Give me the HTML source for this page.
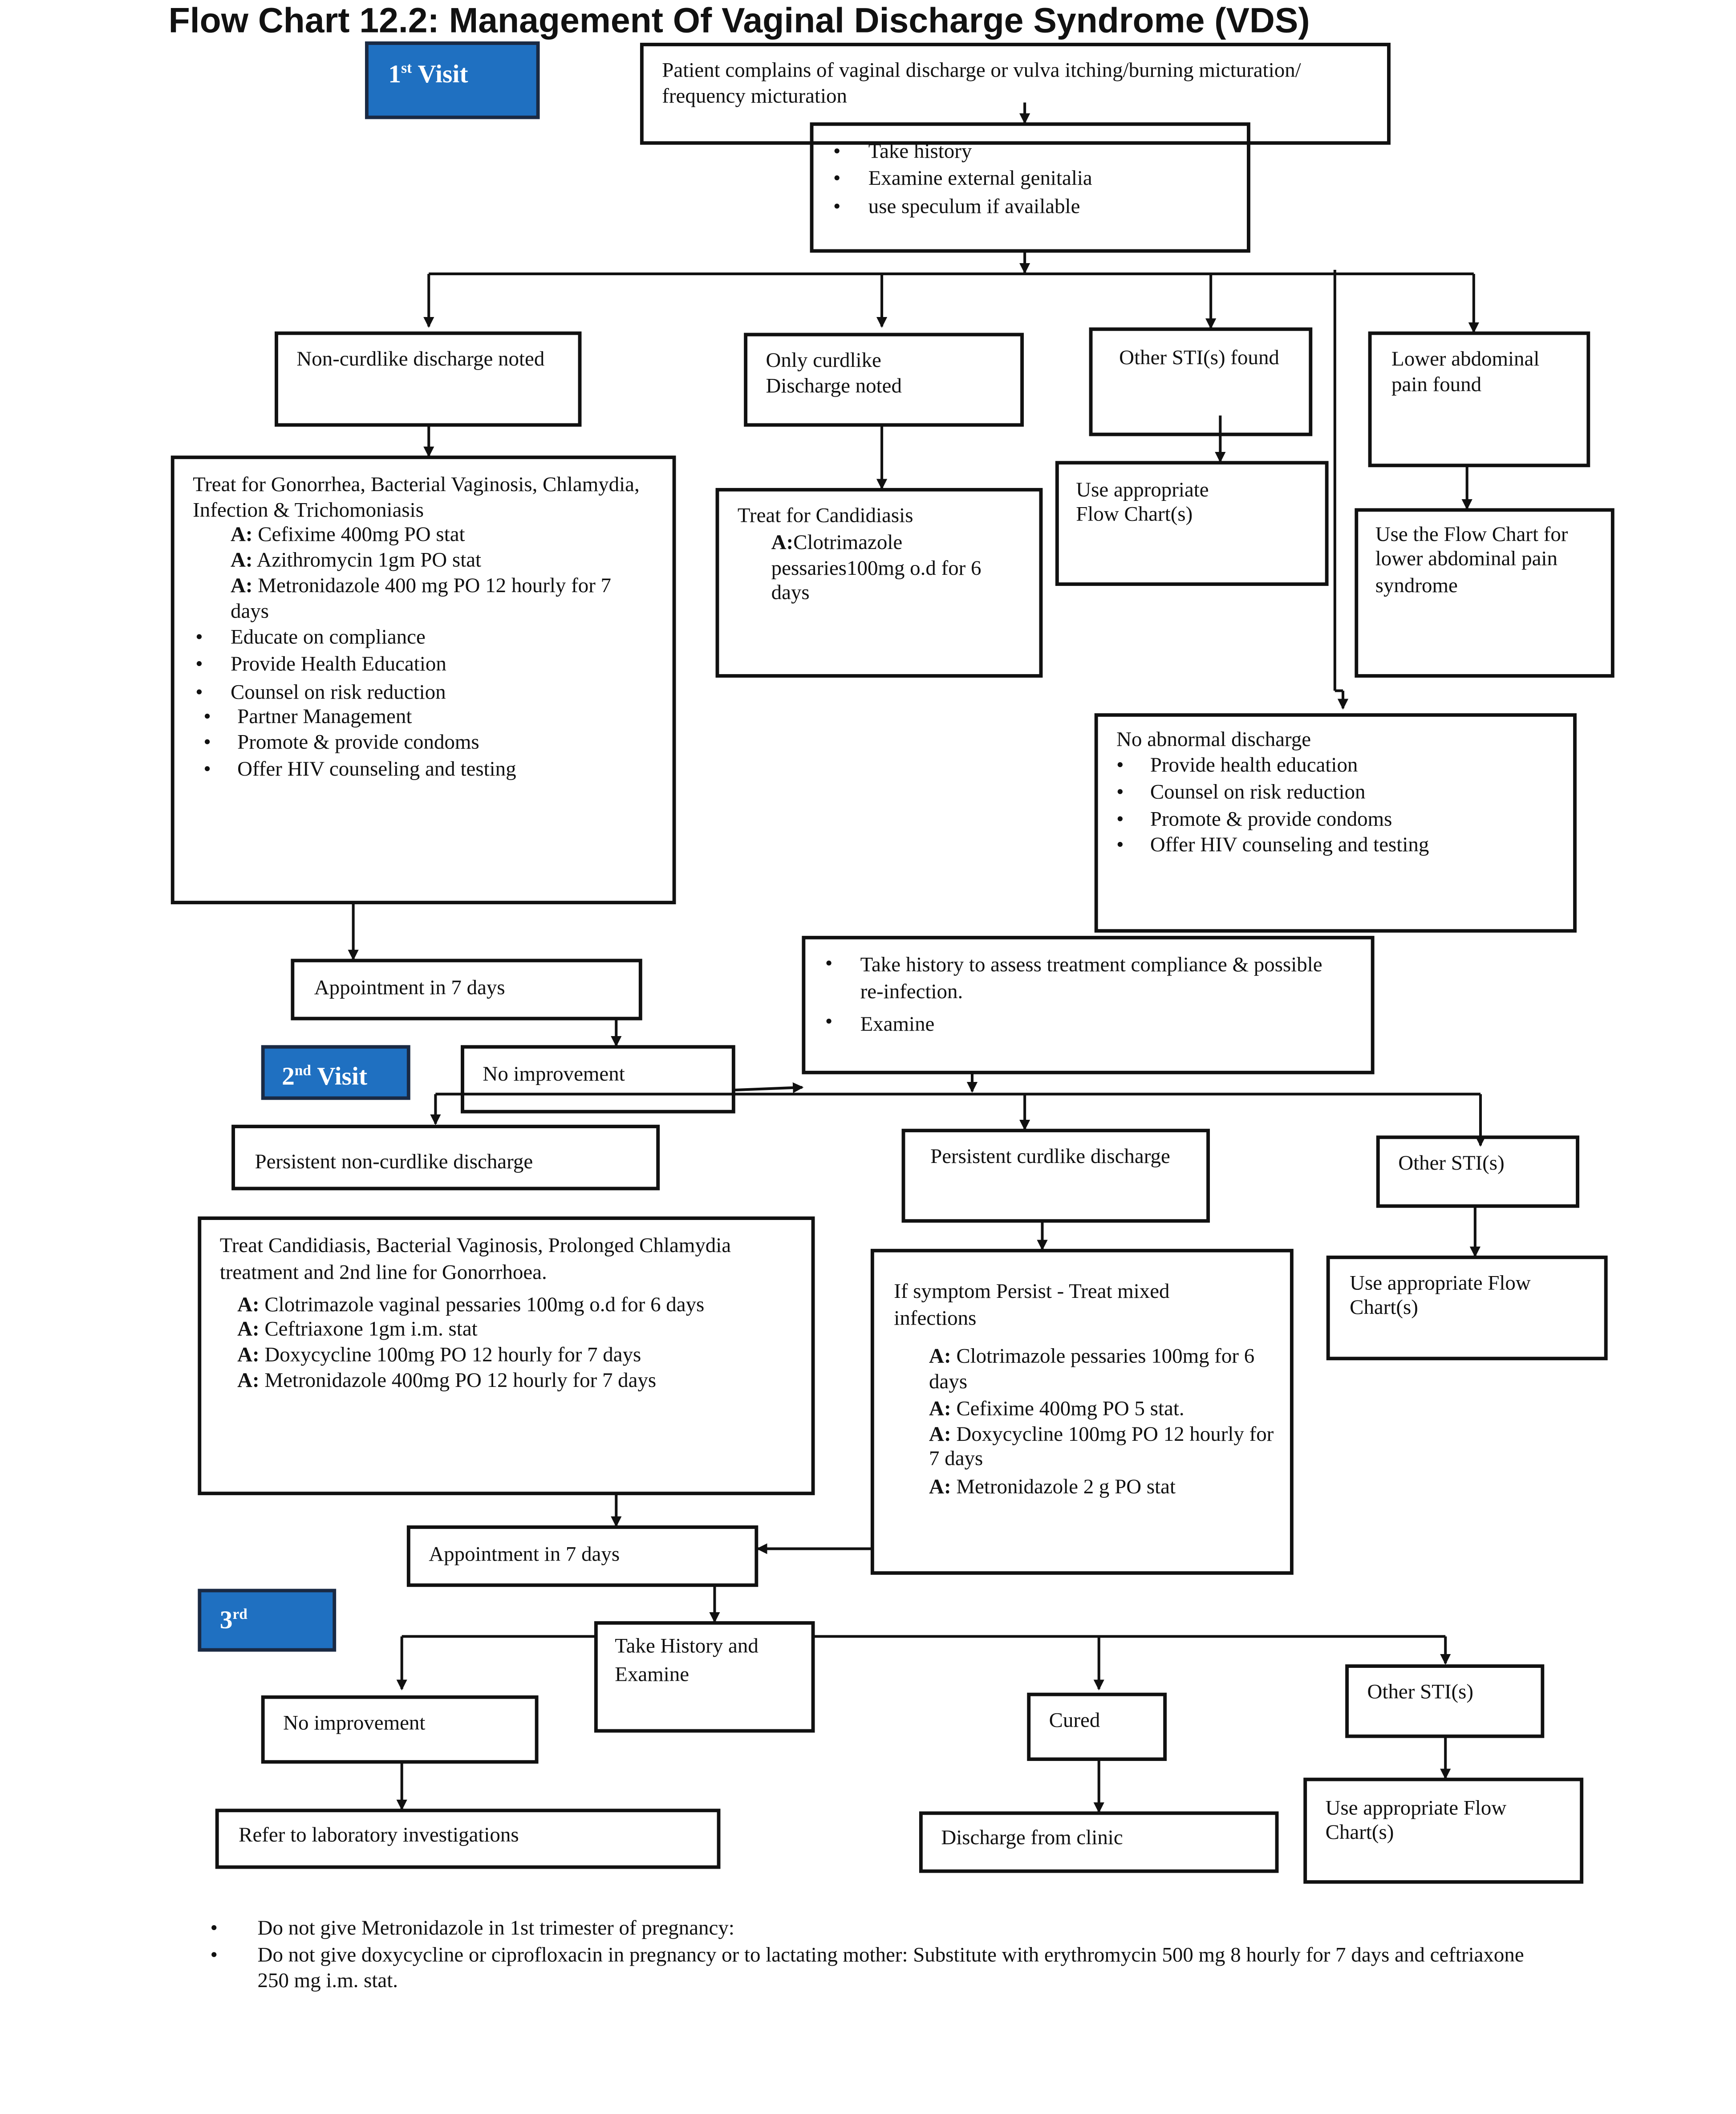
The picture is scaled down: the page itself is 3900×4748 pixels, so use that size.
<!DOCTYPE html>
<html><head><meta charset="utf-8"><style>
html,body{margin:0;padding:0;background:#fff;}
svg{display:block;}
text{font-family:"Liberation Serif",serif;font-size:15.5px;fill:#111;}
.t{font-family:"Liberation Sans",sans-serif;font-weight:bold;font-size:26px;}
.b{fill:none;stroke:#111;stroke-width:2.6;}
.l{stroke:#111;stroke-width:2;fill:none;}
.blue{fill:#1f70c1;stroke:#1a2a44;stroke-width:2.6;}
.w{fill:#fff;font-weight:bold;font-size:19px;}
</style></head><body>
<svg width="3900" height="4748" viewBox="0 0 1287.5 1567" preserveAspectRatio="none" xmlns="http://www.w3.org/2000/svg">
<defs><marker id="a" markerWidth="8" markerHeight="8" refX="7" refY="4" orient="auto" markerUnits="userSpaceOnUse"><path d="M0,0 L8,4 L0,8 z" fill="#111"/></marker></defs>
<rect width="1287.5" height="1567" fill="#fff"/>
<text class="t" x="125" y="24">Flow Chart 12.2: Management Of Vaginal Discharge Syndrome (VDS)</text>

<rect class="blue" x="272" y="32" width="127" height="55"/>
<text class="w" x="288" y="61">1<tspan font-size="11" dy="-7">st</tspan><tspan dy="7"> Visit</tspan></text>

<rect class="b" x="476" y="33" width="554" height="73"/>
<text x="491" y="57">Patient complains of vaginal discharge or vulva itching/burning micturation/</text>
<text x="491" y="76">frequency micturation</text>
<rect class="b" x="602" y="92" width="324" height="94" fill="#fff"/>
<text x="618" y="117">•</text><text x="644" y="117">Take history</text>
<text x="618" y="137">•</text><text x="644" y="137">Examine external genitalia</text>
<text x="618" y="158">•</text><text x="644" y="158">use speculum if available</text>
<line class="l" x1="760" y1="76" x2="760" y2="91" marker-end="url(#a)"/>
<line class="l" x1="760" y1="186" x2="760" y2="202" marker-end="url(#a)"/>

<line class="l" x1="318" y1="203" x2="1093" y2="203"/>
<line class="l" x1="318" y1="203" x2="318" y2="242" stroke-width="3" marker-end="url(#a)"/>
<line class="l" x1="654" y1="203" x2="654" y2="242" marker-end="url(#a)"/>
<line class="l" x1="898" y1="203" x2="898" y2="243" marker-end="url(#a)"/>
<line class="l" x1="1093" y1="203" x2="1093" y2="246" marker-end="url(#a)"/>
<line class="l" x1="990" y1="200" x2="990" y2="512"/>
<line class="l" x1="990" y1="512" x2="996" y2="512"/>
<line class="l" x1="996" y1="512" x2="996" y2="525" marker-end="url(#a)"/>

<rect class="b" x="205" y="247" width="225" height="68"/>
<text x="220" y="271">Non-curdlike discharge noted</text>
<rect class="b" x="553" y="248" width="205" height="67"/>
<text x="568" y="272">Only curdlike</text><text x="568" y="291">Discharge noted</text>
<rect class="b" x="809" y="244" width="163" height="78"/>
<text x="830" y="270">Other STI(s) found</text>
<rect class="b" x="1016" y="247" width="162" height="98"/>
<text x="1032" y="271">Lower abdominal</text><text x="1032" y="290">pain found</text>

<line class="l" x1="318" y1="315" x2="318" y2="338" marker-end="url(#a)"/>
<line class="l" x1="654" y1="315" x2="654" y2="362" marker-end="url(#a)"/>
<line class="l" x1="905" y1="308" x2="905" y2="342" marker-end="url(#a)"/>
<line class="l" x1="1088" y1="345" x2="1088" y2="377" marker-end="url(#a)"/>

<rect class="b" x="128" y="339" width="372" height="330"/>
<text x="143" y="364">Treat for Gonorrhea, Bacterial Vaginosis, Chlamydia,</text>
<text x="143" y="383">Infection &amp; Trichomoniasis</text>
<text x="171" y="401"><tspan font-weight="bold">A:</tspan> Cefixime 400mg PO stat</text>
<text x="171" y="420"><tspan font-weight="bold">A:</tspan> Azithromycin 1gm PO stat</text>
<text x="171" y="439"><tspan font-weight="bold">A:</tspan> Metronidazole 400 mg PO 12 hourly for 7</text>
<text x="171" y="458">days</text>
<text x="145" y="477">•</text><text x="171" y="477">Educate on compliance</text>
<text x="145" y="497">•</text><text x="171" y="497">Provide Health Education</text>
<text x="145" y="518">•</text><text x="171" y="518">Counsel on risk reduction</text>
<text x="151" y="536">•</text><text x="176" y="536">Partner Management</text>
<text x="151" y="555">•</text><text x="176" y="555">Promote &amp; provide condoms</text>
<text x="151" y="575">•</text><text x="176" y="575">Offer HIV counseling and testing</text>

<rect class="b" x="532" y="363" width="240" height="138"/>
<text x="547" y="387">Treat for Candidiasis</text>
<text x="572" y="407"><tspan font-weight="bold">A:</tspan>Clotrimazole</text>
<text x="572" y="426">pessaries100mg o.d for  6</text>
<text x="572" y="444">days</text>

<rect class="b" x="784" y="343" width="200" height="90"/>
<text x="798" y="368">Use appropriate</text><text x="798" y="386">Flow Chart(s)</text>
<rect class="b" x="1006" y="378" width="190" height="123"/>
<text x="1020" y="401">Use the Flow  Chart for</text><text x="1020" y="419">lower abdominal pain</text><text x="1020" y="439">syndrome</text>

<rect class="b" x="813" y="530" width="355" height="160"/>
<text x="828" y="553">No abnormal discharge</text>
<text x="828" y="572">•</text><text x="853" y="572">Provide health education</text>
<text x="828" y="592">•</text><text x="853" y="592">Counsel on risk reduction</text>
<text x="828" y="612">•</text><text x="853" y="612">Promote &amp; provide condoms</text>
<text x="828" y="631">•</text><text x="853" y="631">Offer HIV counseling and testing</text>

<line class="l" x1="262" y1="669" x2="262" y2="711" marker-end="url(#a)"/>
<rect class="b" x="217" y="712" width="258" height="43"/>
<text x="233" y="737">Appointment in 7 days</text>

<rect class="b" x="596" y="695" width="422" height="100"/>
<text x="612" y="719">•</text><text x="638" y="720">Take history to assess treatment compliance &amp; possible</text>
<text x="638" y="740">re-infection.</text>
<text x="612" y="762">•</text><text x="638" y="764">Examine</text>

<rect class="blue" x="195" y="776" width="108" height="38"/>
<text class="w" x="209" y="804">2<tspan font-size="11" dy="-7">nd</tspan><tspan dy="7"> Visit</tspan></text>
<line class="l" x1="457" y1="755" x2="457" y2="775" marker-end="url(#a)"/>
<rect class="b" x="343" y="776" width="201" height="48"/>
<text x="358" y="801">No improvement</text>
<line class="l" x1="544" y1="808" x2="595" y2="806" marker-end="url(#a)"/>
<line class="l" x1="721" y1="795" x2="721" y2="809" marker-end="url(#a)"/>
<line class="l" x1="323" y1="811" x2="1098" y2="811"/>
<line class="l" x1="323" y1="811" x2="323" y2="833" marker-end="url(#a)"/>
<line class="l" x1="760" y1="811" x2="760" y2="837" marker-end="url(#a)"/>
<line class="l" x1="1098" y1="811" x2="1098" y2="849" marker-end="url(#a)"/>

<rect class="b" x="173" y="835" width="315" height="46"/>
<text x="189" y="866">Persistent non-curdlike discharge</text>
<rect class="b" x="670" y="838" width="226" height="67"/>
<text x="690" y="862">Persistent curdlike discharge</text>
<rect class="b" x="1022" y="843" width="148" height="51"/>
<text x="1037" y="867">Other STI(s)</text>

<rect class="b" x="148" y="903" width="455" height="204"/>
<text x="163" y="928">Treat Candidiasis, Bacterial Vaginosis, Prolonged Chlamydia</text>
<text x="163" y="948">treatment and 2nd line for Gonorrhoea.</text>
<text x="176" y="972"><tspan font-weight="bold">A:</tspan> Clotrimazole vaginal pessaries 100mg o.d for 6 days</text>
<text x="176" y="990"><tspan font-weight="bold">A:</tspan> Ceftriaxone 1gm i.m. stat</text>
<text x="176" y="1009"><tspan font-weight="bold">A:</tspan> Doxycycline 100mg PO 12 hourly for 7 days</text>
<text x="176" y="1028"><tspan font-weight="bold">A:</tspan> Metronidazole 400mg PO 12 hourly for 7 days</text>

<line class="l" x1="773" y1="905" x2="773" y2="926" marker-end="url(#a)"/>
<rect class="b" x="647" y="927" width="311" height="239"/>
<text x="663" y="962">If symptom Persist - Treat mixed</text>
<text x="663" y="982">infections</text>
<text x="689" y="1010"><tspan font-weight="bold">A:</tspan> Clotrimazole pessaries 100mg for 6</text>
<text x="689" y="1029">days</text>
<text x="689" y="1049"><tspan font-weight="bold">A:</tspan> Cefixime 400mg PO 5 stat.</text>
<text x="689" y="1068"><tspan font-weight="bold">A:</tspan> Doxycycline 100mg PO 12 hourly for</text>
<text x="689" y="1086">7 days</text>
<text x="689" y="1107"><tspan font-weight="bold">A:</tspan> Metronidazole 2 g PO stat</text>

<line class="l" x1="1094" y1="894" x2="1094" y2="931" marker-end="url(#a)"/>
<rect class="b" x="985" y="932" width="206" height="75"/>
<text x="1001" y="956">Use appropriate Flow</text><text x="1001" y="974">Chart(s)</text>

<line class="l" x1="457" y1="1107" x2="457" y2="1131" marker-end="url(#a)"/>
<rect class="b" x="303" y="1132" width="258" height="43"/>
<text x="318" y="1157">Appointment in 7 days</text>
<line class="l" x1="647" y1="1148" x2="562" y2="1148" marker-end="url(#a)"/>

<rect class="blue" x="148" y="1179" width="100" height="44"/>
<text class="w" x="163" y="1207">3<tspan font-size="11" dy="-7">rd</tspan></text>
<line class="l" x1="530" y1="1175" x2="530" y2="1202" marker-end="url(#a)"/>
<rect class="b" x="442" y="1203" width="161" height="80"/>
<text x="456" y="1225">Take History and</text><text x="456" y="1246">Examine</text>

<line class="l" x1="298" y1="1213" x2="442" y2="1213"/>
<line class="l" x1="298" y1="1213" x2="298" y2="1252" marker-end="url(#a)"/>
<line class="l" x1="603" y1="1213" x2="1072" y2="1213"/>
<line class="l" x1="815" y1="1213" x2="815" y2="1252" marker-end="url(#a)"/>
<line class="l" x1="1072" y1="1213" x2="1072" y2="1233" marker-end="url(#a)"/>

<rect class="b" x="195" y="1258" width="203" height="48"/>
<text x="210" y="1282">No improvement</text>
<rect class="b" x="763" y="1256" width="101" height="48"/>
<text x="778" y="1280">Cured</text>
<rect class="b" x="999" y="1235" width="145" height="52"/>
<text x="1014" y="1259">Other STI(s)</text>

<line class="l" x1="298" y1="1306" x2="298" y2="1341" marker-end="url(#a)"/>
<line class="l" x1="815" y1="1304" x2="815" y2="1343" marker-end="url(#a)"/>
<line class="l" x1="1072" y1="1287" x2="1072" y2="1318" marker-end="url(#a)"/>

<rect class="b" x="161" y="1342" width="372" height="42"/>
<text x="177" y="1365">Refer to laboratory investigations</text>
<rect class="b" x="683" y="1344" width="264" height="43"/>
<text x="698" y="1367">Discharge from clinic</text>
<rect class="b" x="968" y="1319" width="205" height="76"/>
<text x="983" y="1345">Use appropriate Flow</text><text x="983" y="1363">Chart(s)</text>

<text x="156" y="1434">•</text><text x="191" y="1434">Do not give Metronidazole in 1st trimester of pregnancy:</text>
<text x="156" y="1454">•</text><text x="191" y="1454">Do not give doxycycline or ciprofloxacin in pregnancy or to lactating mother: Substitute with erythromycin 500 mg 8 hourly for 7 days  and ceftriaxone</text>
<text x="191" y="1473">250 mg i.m. stat.</text>
</svg>
</body></html>
